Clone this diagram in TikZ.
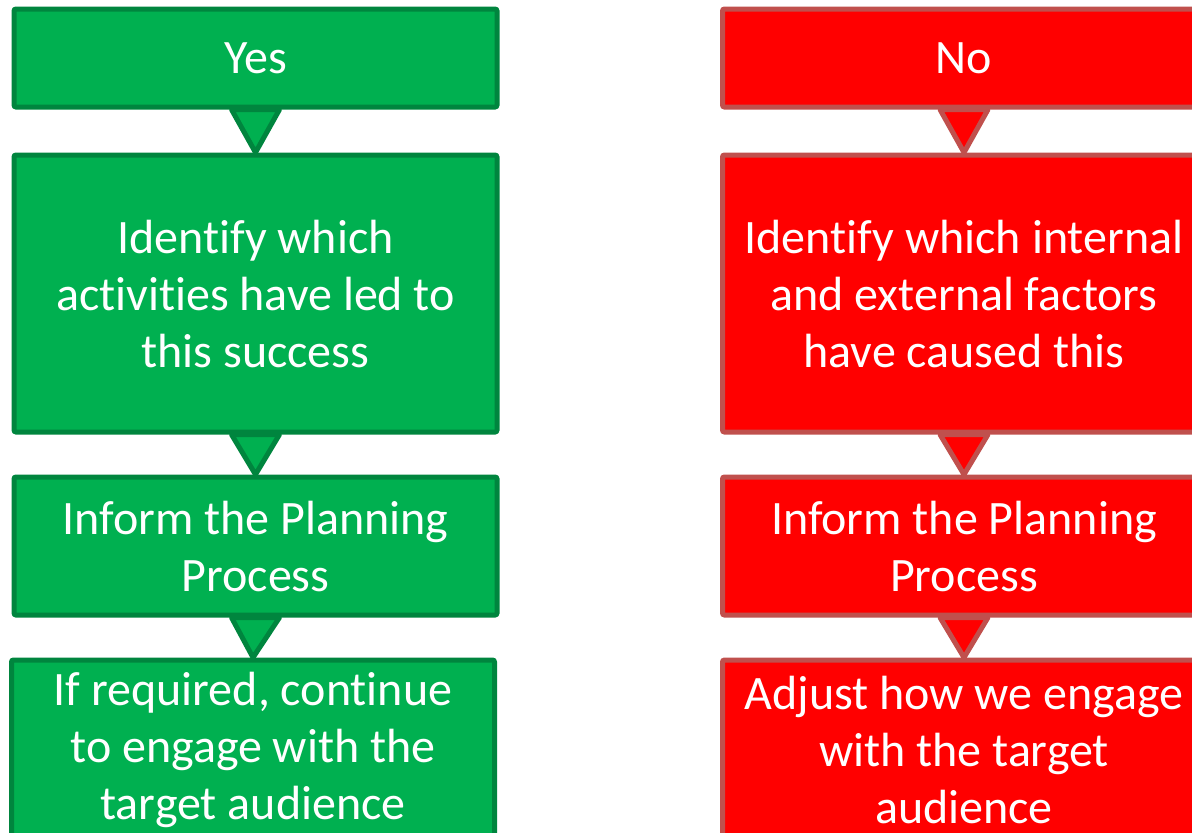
\documentclass[tikz,border=0pt]{standalone}
\usepackage{fontspec}
\setmainfont[Ligatures=NoCommon]{Carlito}
\usepackage{tikz}
\usetikzlibrary{calc}

\definecolor{yesfill}{HTML}{00B050}
\definecolor{yesline}{HTML}{00853E}
\definecolor{nofill}{HTML}{FF0000}
\definecolor{noline}{HTML}{C0504D}

\begin{document}
\begin{tikzpicture}[x=0.5pt, y=-0.5pt,
  box/.style={draw, rectangle, line width=2.5pt, rounded corners=1pt, text=white, align=center,
    minimum width=241.5pt, inner sep=0pt, font=\fontsize{24}{28.5}\selectfont},
  yesbox/.style={box, fill=yesfill, draw=yesline},
  nobox/.style={box, fill=nofill, draw=noline},
  yestri/.style={fill=yesfill, draw=yesline, line width=2.5pt, line join=round},
  notri/.style={fill=nofill, draw=noline, line width=2.5pt, line join=round}]
  \useasboundingbox (0,0) rectangle (1192,832);
  \clip (0,0) rectangle (1192,832);

  % left column
  \node[yesbox, minimum height=49pt] (yes) at (255.5,58) {Yes};
  \node[yesbox, minimum height=138.5pt] (yact) at (255.5,293.5) {Identify which\\activities have led to\\this success};
  \node[yesbox, minimum height=69pt] (yplan) at (255.5,546) {Inform the Planning\\Process};
  \node[yesbox, minimum height=90pt] (yeng) at (253,750) {If required, continue\\to engage with the\\target audience};

  % right column
  \node[nobox, minimum height=49pt] (no) at (964,58) {No};
  \node[nobox, minimum height=138.5pt] (nfact) at (964,293.5) {Identify which internal\\and external factors\\have caused this};
  \node[nobox, minimum height=69pt] (nplan) at (964,546) {Inform the Planning\\Process};
  \node[nobox, minimum height=90pt] (neng) at (964,750) {Adjust how we engage\\with the target\\audience};

  % connectors
  \draw[yestri] ($(yes.south)+(-24,0)$) -- ($(yes.south)+(24,0)$) -- (yact.north) -- cycle;
  \draw[yestri] ($(yact.south)+(-24,0)$) -- ($(yact.south)+(24,0)$) -- (yplan.north) -- cycle;
  \draw[yestri] ($(yplan.south)+(-24,0)$) -- ($(yplan.south)+(24,0)$) -- (yeng.north) -- cycle;
  \draw[notri] ($(no.south)+(-24,0)$) -- ($(no.south)+(24,0)$) -- (nfact.north) -- cycle;
  \draw[notri] ($(nfact.south)+(-24,0)$) -- ($(nfact.south)+(24,0)$) -- (nplan.north) -- cycle;
  \draw[notri] ($(nplan.south)+(-24,0)$) -- ($(nplan.south)+(24,0)$) -- (neng.north) -- cycle;
\end{tikzpicture}
\end{document}
